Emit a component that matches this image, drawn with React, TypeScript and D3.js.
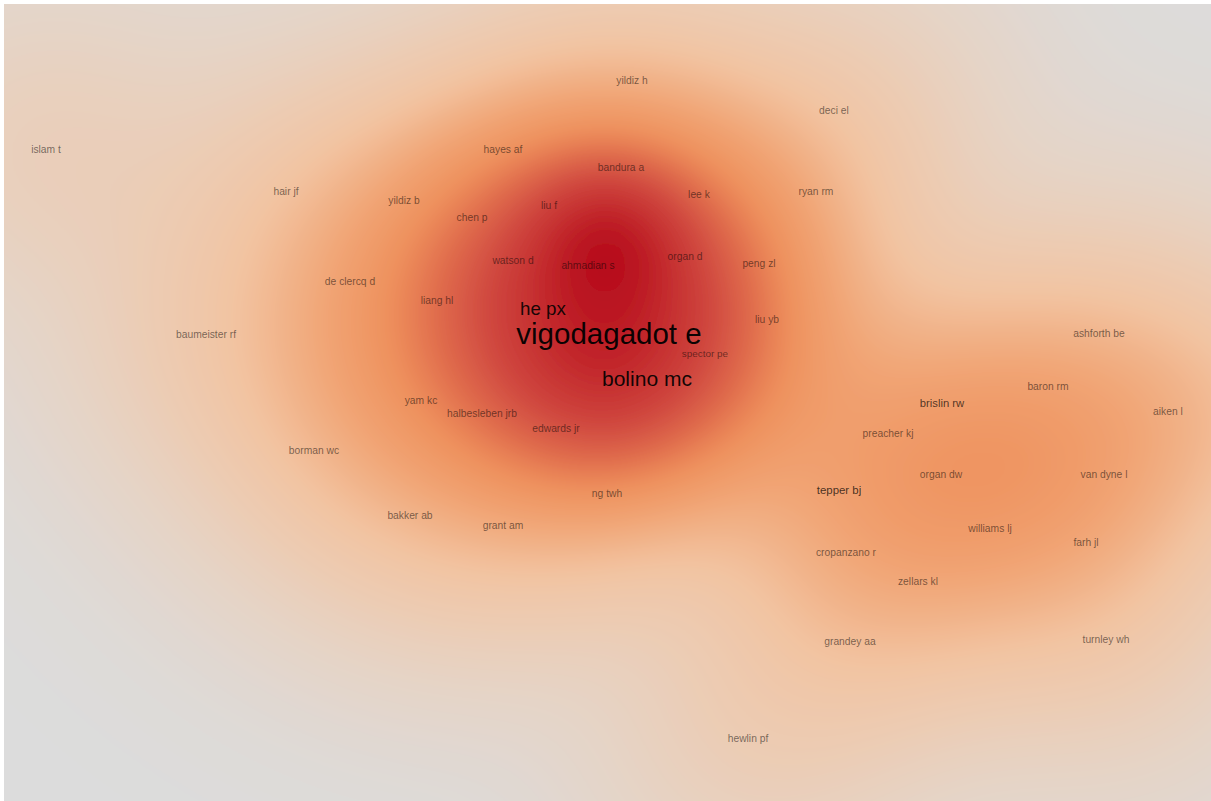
import React, { useEffect, useRef } from "react";
import * as d3 from "d3";

// VOSviewer-style author co-citation density map
// Map coordinates (arbitrary map units), weights = co-citation link strength
const authors = [
  "yildiz h", "deci el", "islam t", "hayes af", "bandura a", "hair jf", "ryan rm", "lee k",
  "yildiz b", "liu f", "chen p", "watson d", "ahmadian s", "organ d", "peng zl", "de clercq d",
  "liang hl", "he px", "vigodagadot e", "liu yb", "baumeister rf", "ashforth be", "spector pe",
  "bolino mc", "baron rm", "yam kc", "brislin rw", "aiken l", "halbesleben jrb", "edwards jr",
  "preacher kj", "borman wc", "organ dw", "van dyne l", "tepper bj", "ng twh", "bakker ab",
  "grant am", "williams lj", "farh jl", "cropanzano r", "zellars kl", "grandey aa", "turnley wh",
  "hewlin pf",
];
const xs = [
  0.26, 2.28, -5.6, -1.03, 0.15, -3.2, 2.1, 0.93,
  -2.02, -0.57, -1.34, -0.93, -0.18, 0.79, 1.53, -2.56,
  -1.69, -0.63, 0.03, 1.61, -4.0, 4.93, 0.99,
  0.41, 4.42, -1.85, 3.36, 5.62, -1.24, -0.5,
  2.82, -2.92, 3.35, 4.98, 2.33, 0.01, -1.96,
  -1.03, 3.84, 4.8, 2.4, 3.12, 2.44, 5.0,
  1.42,
];
const ys = [
  3.2, 2.9, 2.51, 2.51, 2.33, 2.09, 2.09, 2.06,
  2.0, 1.95, 1.83, 1.4, 1.35, 1.44, 1.37, 1.19,
  1.0, 0.92, 0.67, 0.81, 0.66, 0.67, 0.47,
  0.22, 0.14, 0.0, -0.03, -0.11, -0.13, -0.28,
  -0.33, -0.5, -0.74, -0.74, -0.9, -0.93, -1.15,
  -1.25, -1.28, -1.42, -1.52, -1.81, -2.41, -2.39,
  -3.38,
];
const weights = [
  10, 10, 10, 10, 10, 10, 10, 10,
  10, 10, 10, 10, 10, 10, 10, 10,
  10, 32, 60, 10, 10, 10, 9,
  38, 10, 10, 12.5, 10, 10, 10,
  10, 10, 10, 10, 13, 10, 10,
  10, 10, 10, 10, 10, 10, 10,
  10,
];
// items whose labels are hidden by overlap or lie just off the view (they still feed the density)
const hiddenX = [0.02, 0.02, -0.05, 0.9, 4.0, -2.6, 6.3, 4.4, 0.7, -1.5, 0.0];
const hiddenY = [1.62, 1.6, 0.1, 0.6, -0.3, 0.3, -0.1, -0.9, 1.9, 0.6, 0.3];
const hiddenW = [72, 28, 14, 10, 10, 10, 14, 8, 6, 8, 18];
// kernel width multiplier (1 = standard kernel)
const hiddenK = [0.5, 1, 1, 1, 1, 1, 1, 1, 1, 1, 0.6];

const W = 1211;
const H = 801;
const MAP = { x: 4, y: 4, w: 1207, h: 797 };

export default function App() {
  const ref = useRef<SVGSVGElement | null>(null);

  useEffect(() => {
    document.body.style.margin = "0";
    const svg = d3.select(ref.current);
    svg.selectAll("*").remove();

    const x = d3.scaleLinear().domain([-6, 6]).range([6, 1206]);
    const y = d3.scaleLinear().domain([-4, 4]).range([800, 0]);

    const pts = [
      ...authors.map((a, i) => ({ px: x(xs[i]), py: y(ys[i]), w: weights[i], k: 1 })),
      ...hiddenX.map((hx, i) => ({ px: x(hx), py: y(hiddenY[i]), w: hiddenW[i], k: hiddenK[i] })),
    ];

    const cell = 4;
    const pad = 40;
    const nx = Math.ceil((W + 2 * pad) / cell);
    const ny = Math.ceil((H + 2 * pad) / cell);
    const sx = 100;
    const sy = 95;
    const vals = new Float64Array(nx * ny);
    for (let j = 0; j < ny; j++) {
      const py = j * cell - pad + cell / 2;
      for (let i = 0; i < nx; i++) {
        const px = i * cell - pad + cell / 2;
        let s = 0;
        for (const p of pts) {
          const dx = (px - p.px) / (sx * p.k);
          const dy = (py - p.py) / (sy * p.k);
          s += p.w * Math.exp(-0.5 * (dx * dx + dy * dy));
        }
        vals[j * nx + i] = s;
      }
    }
    const vmax = d3.max(vals) as number;
    const norm = Array.from(vals, (v) => Math.pow(v / vmax, 0.46));

    const color = d3
      .scaleLinear<string>()
      .domain([0, 0.17, 0.37, 0.5, 0.6, 0.69, 0.79, 0.9, 1])
      .range(["#dcdcdc", "#e6d3c4", "#f2c4a2", "#f1a474", "#ee905c", "#e06b4c", "#d04840", "#c42c2e", "#b60c1d"])
      .interpolate(d3.interpolateRgb)
      .clamp(true);

    const thresholds = d3.range(0, 1.0001, 1 / 160);
    const contours = d3.contours().size([nx, ny]).thresholds(thresholds)(norm);

    const defs = svg.append("defs");
    defs
      .append("clipPath")
      .attr("id", "mapclip")
      .append("rect")
      .attr("x", MAP.x)
      .attr("y", MAP.y)
      .attr("width", MAP.w)
      .attr("height", MAP.h);
    const f = defs
      .append("filter")
      .attr("id", "soft")
      .attr("x", -0.05)
      .attr("y", -0.05)
      .attr("width", 1.1)
      .attr("height", 1.1);
    f.append("feGaussianBlur").attr("stdDeviation", 9);

    svg.append("rect").attr("width", W).attr("height", H).attr("fill", "#ffffff");

    const clip = svg.append("g").attr("clip-path", "url(#mapclip)");
    clip
      .append("rect")
      .attr("x", MAP.x)
      .attr("y", MAP.y)
      .attr("width", MAP.w)
      .attr("height", MAP.h)
      .attr("fill", color(0));
    const path = d3.geoPath(
      d3.geoTransform({
        point(px: number, py: number) {
          this.stream.point(px * cell - pad, py * cell - pad);
        },
      })
    );
    clip
      .append("g")
      .attr("filter", "url(#soft)")
      .selectAll("path")
      .data(contours)
      .join("path")
      .attr("d", (d: any) => path(d) as string)
      .attr("fill", (d: any) => color(d.value));

    const fs = d3.scaleLinear().domain([10, 60]).range([10.3, 29.5]);
    const op = d3.scaleLinear().domain([10, 13, 30, 60]).range([0.52, 0.72, 0.9, 0.95]).clamp(true);

    svg
      .append("g")
      .selectAll("text")
      .data(authors.map((a, i) => ({ a, i })))
      .join("text")
      .attr("x", (d) => x(xs[d.i]))
      .attr("y", (d) => y(ys[d.i]))
      .attr("text-anchor", "middle")
      .attr("dominant-baseline", "central")
      .attr("font-family", "'Liberation Sans', Arial, sans-serif")
      .attr("font-size", (d) => fs(weights[d.i]))
      .attr("fill", "#000")
      .attr("fill-opacity", (d) => op(weights[d.i]))
      .text((d) => d.a);
  }, []);

  return (
    <svg
      ref={ref}
      width={W}
      height={H}
      style={{ display: "block", position: "absolute", left: 0, top: 0 }}
    />
  );
}
